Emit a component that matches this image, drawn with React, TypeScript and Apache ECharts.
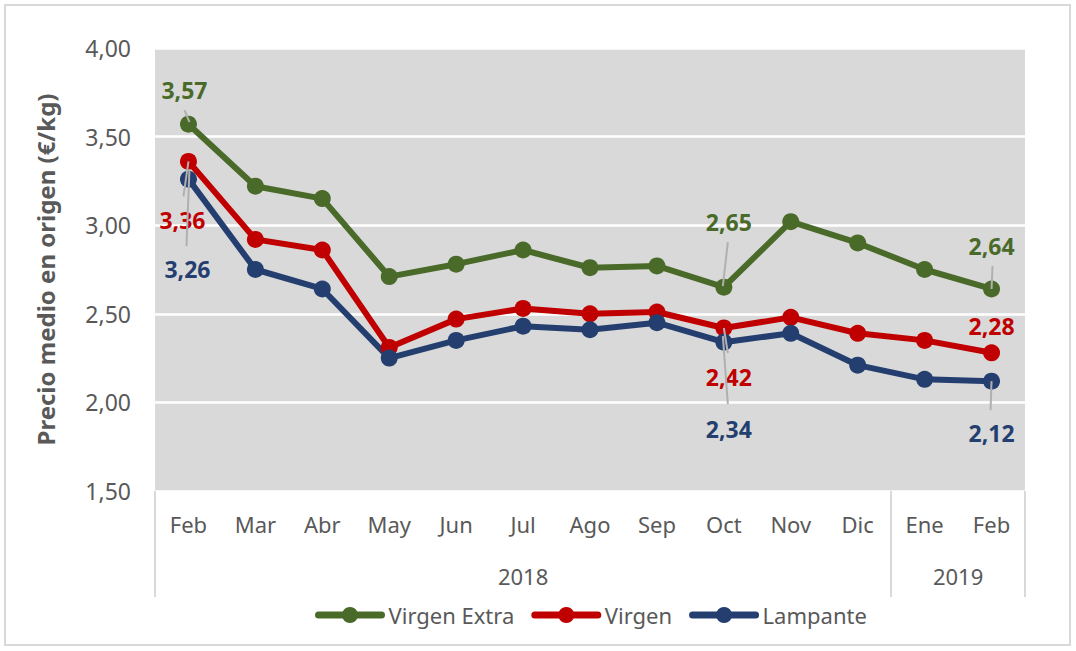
import React, { useEffect, useRef } from 'react';
import * as echarts from 'echarts';

const categories = ['Feb', 'Mar', 'Abr', 'May', 'Jun', 'Jul', 'Ago', 'Sep', 'Oct', 'Nov', 'Dic', 'Ene', 'Feb'];
const years = ['2018', '2019'];
const yearCounts = [11, 2];
const virgenExtra = [3.57, 3.22, 3.15, 2.71, 2.78, 2.86, 2.76, 2.77, 2.65, 3.02, 2.9, 2.75, 2.64];
const virgen = [3.36, 2.92, 2.86, 2.31, 2.47, 2.53, 2.5, 2.51, 2.42, 2.48, 2.39, 2.35, 2.28];
const lampante = [3.26, 2.75, 2.64, 2.25, 2.35, 2.43, 2.41, 2.45, 2.34, 2.39, 2.21, 2.13, 2.12];
const seriesNames = ['Virgen Extra', 'Virgen', 'Lampante'];
const labeledIndices = [0, 8, 12];

const FONT = '"Noto Sans", sans-serif';
const GREY = '#595959';
const colors = ['#4A6A2A', '#C00000', '#243F6F'];
// label offsets [dx, dy] (px) per series, per labelled index
const labelOffsets: Record<number, Record<number, [number, number]>> = {
  0: { 0: [-4, -34], 8: [5, -65], 12: [0, -43] },
  1: { 0: [-6, 59], 8: [5, 49], 12: [0, -27] },
  2: { 0: [-1, 90], 8: [5, 87], 12: [0, 52] },
};
// leader lines relative to the point (px): [x1, y1, x2, y2]
const leaderOffsets: Record<number, Record<number, [number, number, number, number]>> = {
  0: { 0: [1, -2, -4, -14], 8: [-1, -1, 4, -45], 12: [0, 0, 1, -23] },
  1: { 0: [0, 0, -5, 35], 8: [0, 0, 4, 25] },
  2: { 0: [1, -10, -2, 67], 8: [-1, -6, 4, 62], 12: [0, 0, -1, 29] },
};

const fmt = (v: number) => v.toFixed(2).replace('.', ',');

export default function App() {
  const ref = useRef<HTMLDivElement>(null);
  useEffect(() => {
    if (!ref.current) return;
    const chart = echarts.init(ref.current, undefined, { renderer: 'svg' });
    const separators: number[] = [0];
    const centers: number[] = [];
    yearCounts.forEach((c) => {
      const start = separators[separators.length - 1];
      centers.push(start + c / 2);
      separators.push(start + c);
    });
    const total = separators[separators.length - 1];
    const allData = [virgenExtra, virgen, lampante];
    const border = {
      type: 'rect',
      shape: { x: 5, y: 5, width: 1065, height: 640 },
      style: { fill: 'none', stroke: '#d9d9d9', lineWidth: 2 },
      silent: true,
    };
    chart.setOption({
      animation: false,
      graphic: [border],
      grid: {
        left: 155,
        right: 51,
        top: 48,
        bottom: 160,
        show: true,
        backgroundColor: '#d9d9d9',
        borderWidth: 0,
      },
      legend: {
        data: seriesNames,
        left: 310,
        top: 599,
        itemWidth: 63,
        itemHeight: 20,
        itemGap: 17,
        lineStyle: { width: 7, cap: 'round' },
        textStyle: { fontSize: 22, color: GREY, fontFamily: FONT, padding: [0, 0, 0, 2] },
      },
      xAxis: [
        {
          type: 'category',
          data: categories,
          boundaryGap: true,
          axisLine: { show: false },
          axisTick: { show: false },
          axisLabel: { fontSize: 22, color: GREY, fontFamily: FONT, margin: 22, interval: 0 },
        },
        {
          type: 'value',
          position: 'bottom',
          min: 0,
          max: total,
          axisLine: { show: false },
          splitLine: { show: false },
          axisTick: {
            show: true,
            customValues: separators,
            length: 106,
            lineStyle: { color: '#d9d9d9', width: 2 },
          },
          axisLabel: {
            show: true,
            customValues: centers,
            formatter: (v: number) => {
              const i = centers.indexOf(v);
              return i >= 0 ? years[i] : '';
            },
            fontSize: 22,
            color: GREY,
            fontFamily: FONT,
            margin: 74,
          },
        },
      ],
      yAxis: {
        type: 'value',
        min: 1.5,
        max: 4,
        interval: 0.5,
        name: 'Precio medio en origen (€/kg)',
        nameLocation: 'middle',
        nameGap: 98,
        nameTextStyle: { fontSize: 24, fontWeight: 'bold', color: GREY, fontFamily: FONT },
        axisLine: { show: false },
        axisTick: { show: false },
        axisLabel: { fontSize: 23, color: GREY, fontFamily: FONT, margin: 24, formatter: (v: number) => fmt(v) },
        splitLine: { show: true, lineStyle: { color: '#ffffff', width: 2.5 } },
      },
      series: allData.map((arr, si) => ({
        name: seriesNames[si],
        type: 'line',
        xAxisIndex: 0,
        color: colors[si],
        symbol: 'circle',
        symbolSize: 17,
        lineStyle: { width: 6, color: colors[si], join: 'round' },
        itemStyle: { color: colors[si] },
        data: arr.map((v, i) => {
          if (labeledIndices.indexOf(i) < 0) return { value: v, label: { show: false } };
          return {
            value: v,
            label: {
              show: true,
              position: 'inside',
              offset: labelOffsets[si][i],
              color: colors[si],
              fontSize: 23,
              fontWeight: 'bold',
              fontFamily: FONT,
              formatter: (p: any) => fmt(p.value),
            },
          };
        }),
      })),
    });
    const lines: any[] = [];
    allData.forEach((arr, si) => {
      Object.keys(leaderOffsets[si]).forEach((k) => {
        const i = Number(k);
        const p = chart.convertToPixel({ xAxisIndex: 0, yAxisIndex: 0 }, [i, arr[i]]) as number[];
        const o = leaderOffsets[si][i];
        lines.push({
          type: 'line',
          z: 100,
          silent: true,
          shape: { x1: p[0] + o[0], y1: p[1] + o[1], x2: p[0] + o[2], y2: p[1] + o[3] },
          style: { stroke: '#b0b0b0', lineWidth: 2 },
        });
      });
    });
    chart.setOption({ graphic: [border, ...lines] });
    return () => chart.dispose();
  }, []);
  return <div ref={ref} style={{ position: 'absolute', left: 0, top: 0, width: 1076, height: 651 }} />;
}
